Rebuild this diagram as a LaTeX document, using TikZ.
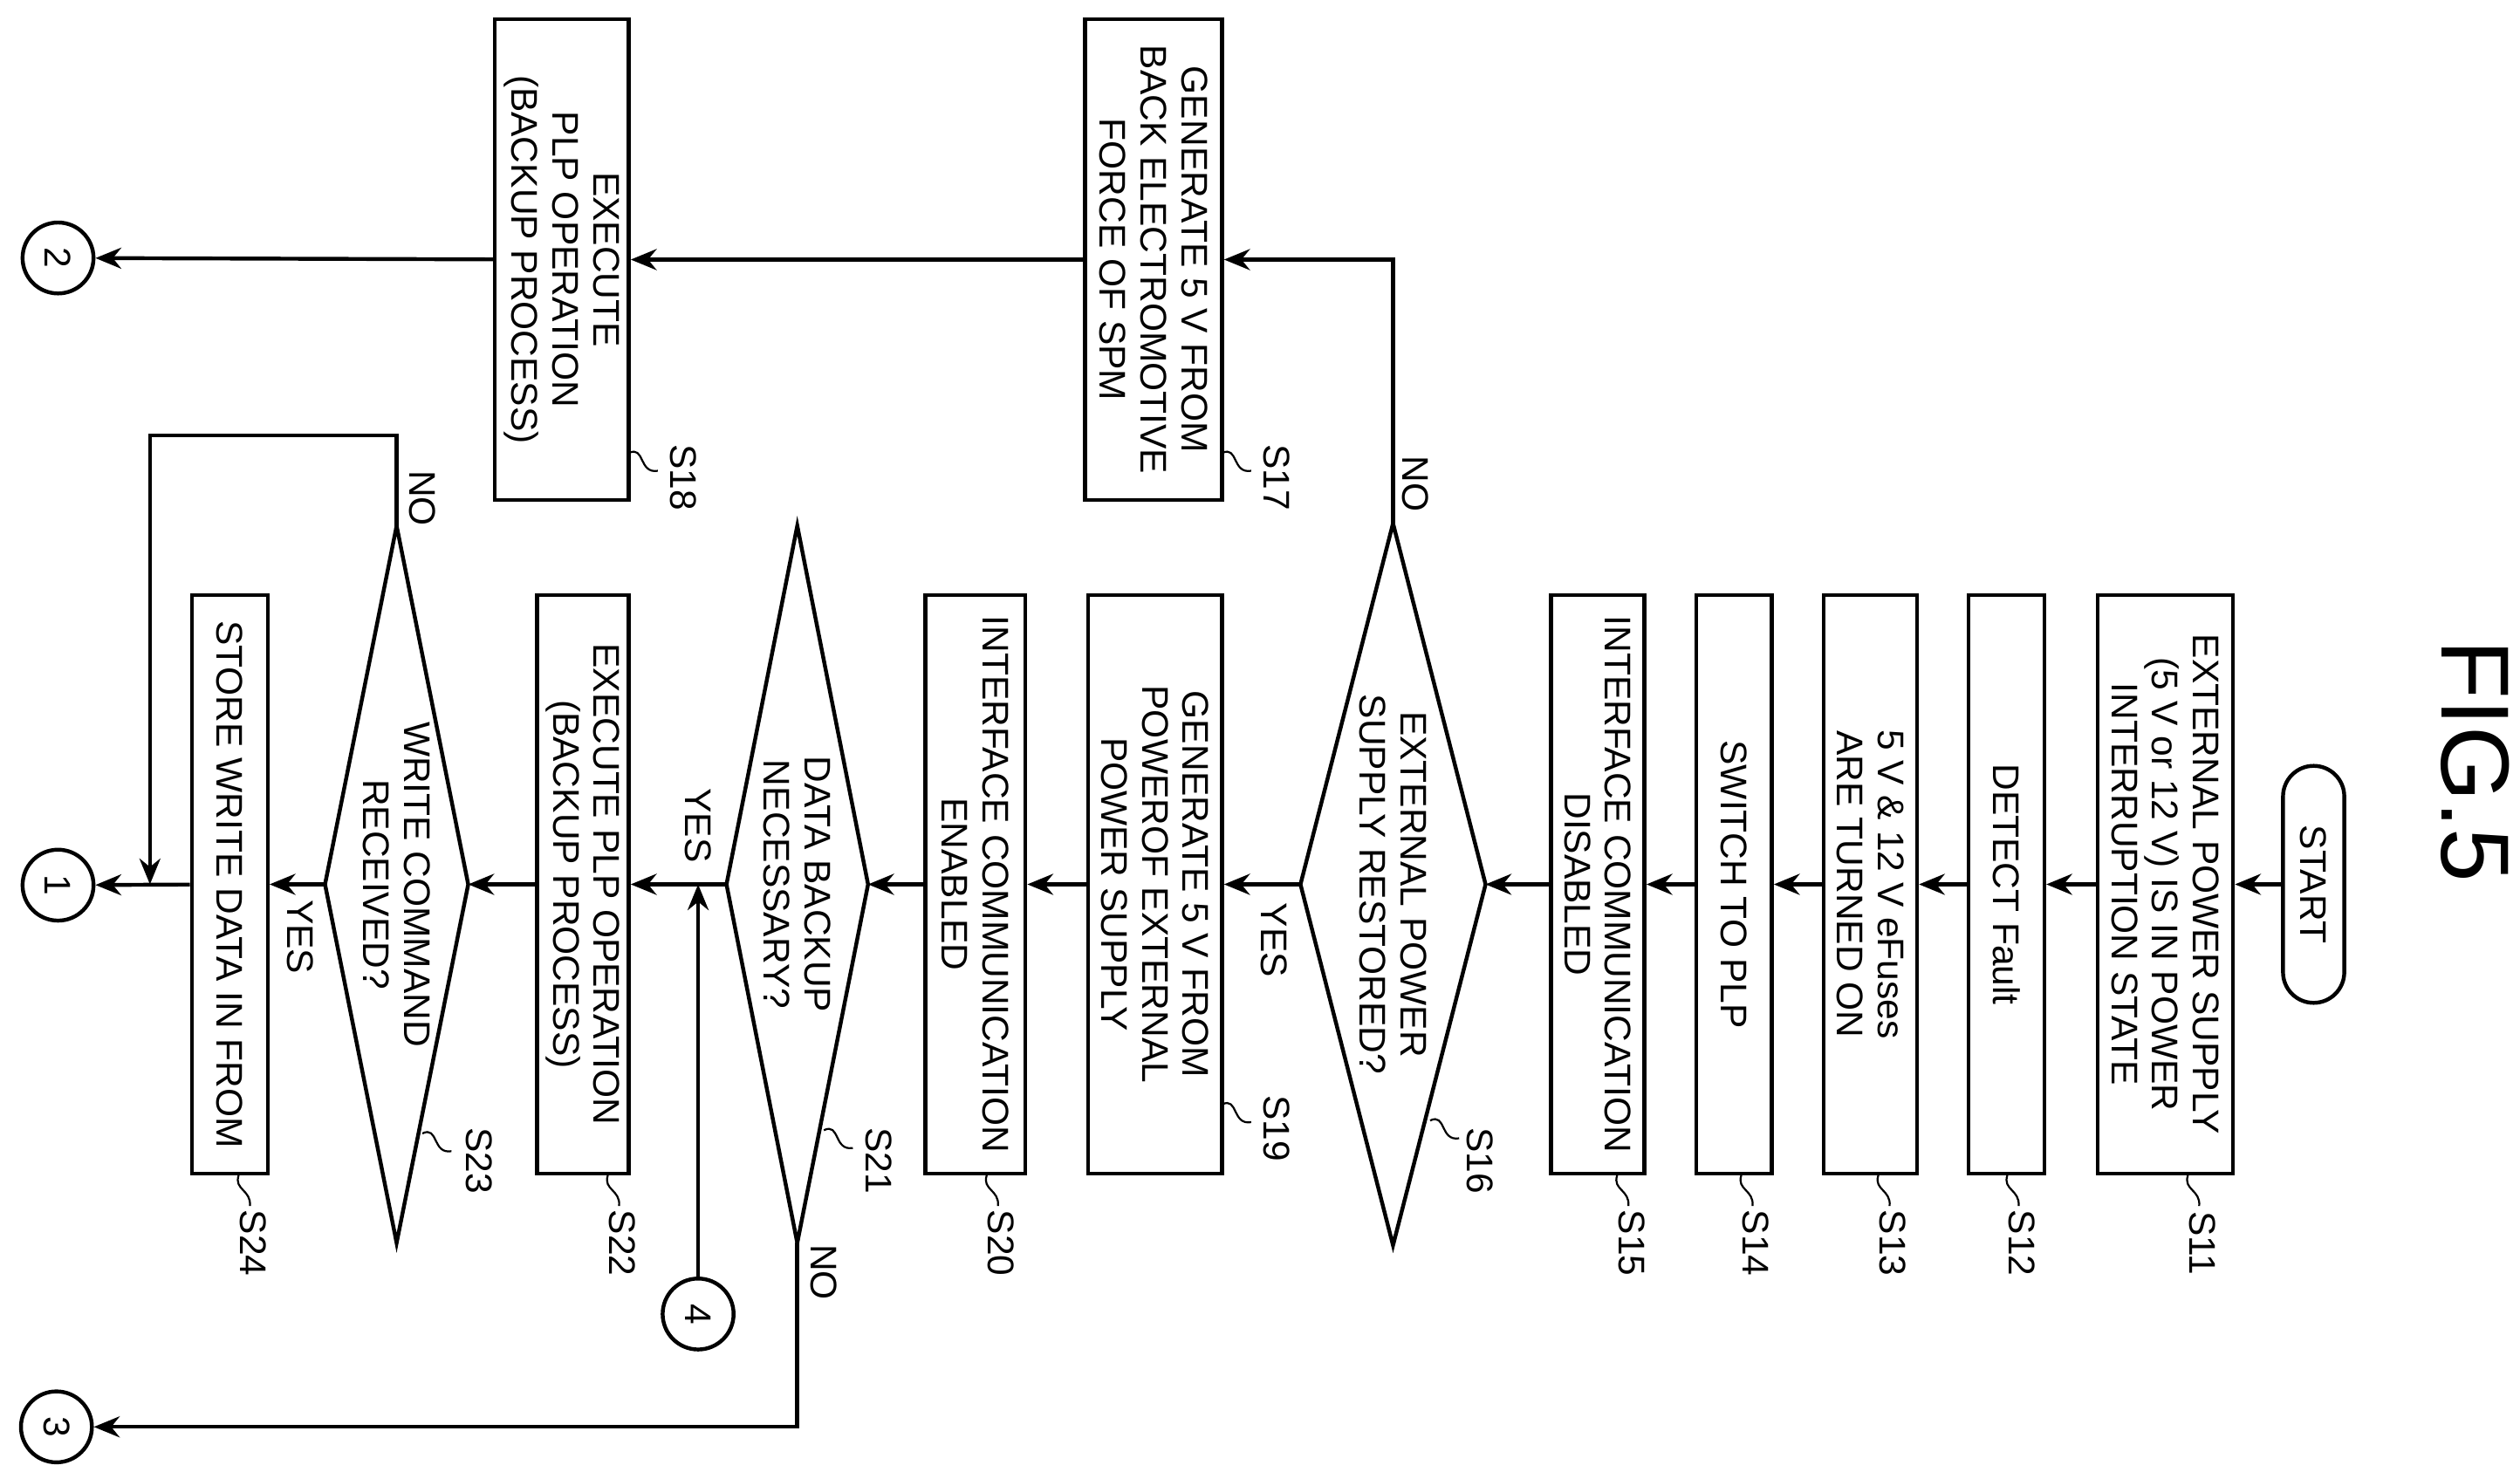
\documentclass[tikz,border=0pt]{standalone}
\usepackage{fontspec}
\setmainfont{Liberation Sans}
\usetikzlibrary{arrows.meta}
\begin{document}
\begin{tikzpicture}[x=0.5pt,y=-0.5pt,
  every node/.style={font=\fontsize{11.5}{12.6}\selectfont},
  box/.style={draw,line width=1.2pt,rotate=-90,align=center,inner sep=0pt,minimum width=179.5pt},
  dia/.style={rotate=-90,align=center,inner sep=0pt,minimum width=223.5pt},
  lab/.style={rotate=-90,inner sep=0pt},
  circ/.style={draw,circle,line width=1.2pt,minimum size=22pt,inner sep=0pt},
  ln/.style={line width=1.2pt},
  arr/.style={line width=1.2pt,-{Stealth[length=8pt,width=6.5pt]}},
  sq/.style={line width=0.6pt}]
\useasboundingbox (0,0) rectangle (1563,917);
\node[lab,font=\fontsize{30}{30}\selectfont] (fig) at (1535,472) {FIG.5};
\node[box,rounded corners=9.5pt,minimum width=73.5pt,minimum height=19pt] (st) at (1435,548.5) {START};
\node[box,minimum height=42pt] (S11) at (1343,548.5) {EXTERNAL POWER SUPPLY\\(5 V or 12 V) IS IN POWER\\INTERRUPTION STATE};
\node[box,minimum height=23.5pt] (S12) at (1244.5,548.5) {DETECT Fault};
\node[box,minimum height=29pt] (S13) at (1160,548.5) {5 V \& 12 V eFuses\\ARE TURNED ON};
\node[box,minimum height=23.5pt] (S14) at (1075.5,548.5) {SWITCH TO PLP};
\node[box,minimum height=29pt] (S15) at (991,548.5) {INTERFACE COMMUNICATION\\DISABLED};
\node[dia,minimum height=57pt] (S16) at (864,548.5) {EXTERNAL POWER\\SUPPLY RESTORED?};
\draw[ln] (S16.west)--(S16.north)--(S16.east)--(S16.south)--cycle;
\node[box,minimum height=41.5pt] (S19) at (716.5,548.5) {GENERATE 5 V FROM\\POWEROF EXTERNAL\\POWER SUPPLY};
\node[box,minimum height=31pt] (S20) at (605,548.5) {INTERFACE COMMUNICATION\\ENABLED};
\node[dia,minimum height=43.5pt,minimum width=222pt] (S21) at (494.5,548.5) {DATA BACKUP\\NECESSARY?};
\draw[ln] (S21.west)--(S21.north)--(S21.east)--(S21.south)--cycle;
\node[box,minimum height=28.5pt] (S22) at (361.5,548.5) {EXECUTE PLP OPERATION\\(BACKUP PROCESS)};
\node[dia,minimum height=44pt,minimum width=222pt] (S23) at (246,548.5) {WRITE COMMAND\\RECEIVED?};
\draw[ln] (S23.west)--(S23.north)--(S23.east)--(S23.south)--cycle;
\node[box,minimum height=23.5pt] (S24) at (142.5,548.5) {STORE WRITE DATA IN FROM};
\node[box,minimum width=149pt,minimum height=42.5pt] (S17) at (715.5,161) {GENERATE 5 V FROM\\BACK ELECTROMOTIVE\\FORCE OF SPM};
\node[box,minimum width=149pt,minimum height=41.5pt] (S18) at (348.5,161) {EXECUTE\\PLP OPERATION\\(BACKUP PROCESS)};
\node[circ,rotate=-90] (c1) at (36,549) {1};
\node[circ,rotate=-90] (c2) at (36,160) {2};
\node[circ,rotate=-90] (c3) at (35,885) {3};
\node[circ,rotate=-90] (c4) at (433,815) {4};
\coordinate (j4) at (433,548.5);
\coordinate (j1) at (93,548.5);
\coordinate (n23) at (246,270);
% connectors
\draw[arr] (st)--(S11);
\draw[arr] (S11)--(S12);
\draw[arr] (S12)--(S13);
\draw[arr] (S13)--(S14);
\draw[arr] (S14)--(S15);
\draw[arr] (S15)--(S16);
\draw[arr] (S16)--(S19);
\draw[arr] (S19)--(S20);
\draw[arr] (S20)--(S21);
\draw[arr] (S21)--(S22);
\draw[arr] (S22)--(S23);
\draw[arr] (S23)--(S24);
\draw[arr] (S24)--(c1);
\draw[arr] (S16.west) |- (S17.north);
\draw[arr] (S17)--(S18);
\draw[arr] (S18)--(c2);
\draw[arr] (S21.east) |- (c3);
\draw[arr] (c4)--(j4);
\draw[arr] (S23.west)--(n23)-|(j1);
% yes/no
\node[lab] (y16) at (790,583) {YES};
\node[lab] (n16) at (878,300) {NO};
\node[lab] (y21) at (433,512) {YES};
\node[lab] (n21) at (511,789) {NO};
\node[lab] (y23) at (186,581) {YES};
\node[lab] (n23l) at (262,309) {NO};
% step labels
\foreach \x/\t in {1357/S11,1245/S12,1165/S13,1080/S14,1003/S15,612/S20,377/S22,148/S24}{
  \draw[sq] (\x,729) .. controls (\x-3,738) and (\x+8,738) .. (\x+7,748);
  \node[lab] at (\x+9,771) {\t};
}
\draw[sq] (887,695) .. controls (897,690) and (893,708) .. (905,706);
\node[lab] at (918,720) {S16};
\draw[sq] (511,701) .. controls (521,696) and (517,714) .. (529,712);
\node[lab] at (545,720) {S21};
\draw[sq] (262,703) .. controls (272,698) and (268,716) .. (280,714);
\node[lab] at (297,720) {S23};
\draw[sq] (758,685) .. controls (768,680) and (764,698) .. (776,696);
\node[lab] at (792,700) {S19};
\draw[sq] (758,281) .. controls (768,276) and (764,294) .. (776,292);
\node[lab] at (792,296) {S17};
\draw[sq] (390,281) .. controls (400,276) and (396,294) .. (408,292);
\node[lab] at (424,296) {S18};
\end{tikzpicture}
\end{document}
